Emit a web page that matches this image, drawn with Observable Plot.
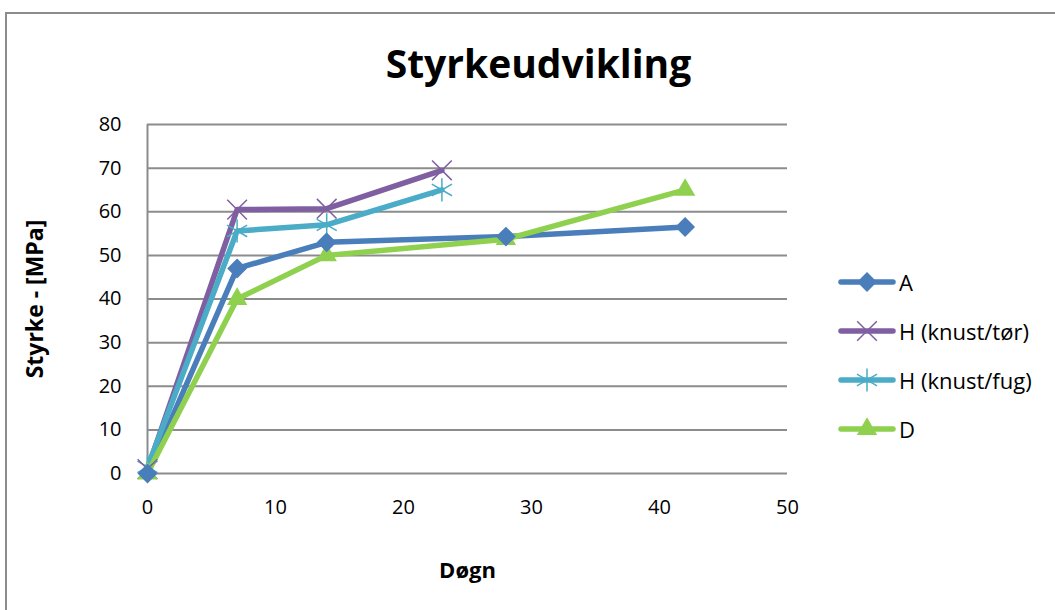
<!DOCTYPE html>
<html>
<head>
<meta charset="utf-8">
<script src="https://cdn.jsdelivr.net/npm/d3@7"></script>
<script src="https://cdn.jsdelivr.net/npm/@observablehq/plot@0.6"></script>
<style>
  html, body { margin: 0; padding: 0; background: #fff; width: 1055px; height: 610px; overflow: hidden; }
  #frame { position: absolute; left: 5px; top: 12px; width: 1200px; height: 700px; border: 2px solid #8c8c8c; box-sizing: border-box; }
  #title { position: absolute; left: 0; width: 1077px; top: 36px; text-align: center; font: bold 39px "Open Sans", sans-serif; color: #000; }
  #chart { position: absolute; left: 0; top: 0; }
  #legend { position: absolute; left: 838px; top: 257px; font: 22px "Open Sans", sans-serif; color: #000; }
  .item { display: flex; align-items: center; height: 49px; }
  .item svg { margin-right: 3px; }
</style>
</head>
<body>
<div id="frame"></div>
<div id="title">Styrkeudvikling</div>
<div id="chart"></div>
<div id="legend"></div>
<script>
const seriesNames = ["A", "H (knust/tør)", "H (knust/fug)", "D"];
const colors = ["#4a7ebb", "#7f5fa1", "#4aacc6", "#8fd14f"];
const symbols = ["diamond2", "times", "asterisk", "triangle2"];
const symbolSizes = [8, 9, 11, 8.5];

const daysA = [0, 7, 14, 28, 42];
const valuesA = [0, 47, 53, 54.3, 56.5];
const daysHtor = [0, 7, 14, 23];
const valuesHtor = [1, 60.5, 60.7, 69.5];
const daysHfug = [0, 7, 14, 23];
const valuesHfug = [1.5, 55.6, 57, 65];
const daysD = [0, 7, 14, 28, 42];
const valuesD = [0, 40, 50, 53.7, 65];

const xTicks = [0, 10, 20, 30, 40, 50];
const yTicks = [0, 10, 20, 30, 40, 50, 60, 70, 80];

const groups = [
  [daysA, valuesA],
  [daysHtor, valuesHtor],
  [daysHfug, valuesHfug],
  [daysD, valuesD]
];
const data = groups.flatMap(([xs, ys], i) => xs.map((x, j) => ({series: seriesNames[i], x, y: ys[j], size: symbolSizes[i]})));

const chart = Plot.plot({
  width: 1055,
  height: 610,
  marginLeft: 147,
  marginRight: 268,
  marginTop: 124,
  marginBottom: 137,
  style: {background: "transparent", fontFamily: "Open Sans, sans-serif"},
  x: {domain: [0, 50], ticks: xTicks, label: null},
  y: {domain: [0, 80], ticks: yTicks, label: null},
  r: {type: "identity"},
  color: {domain: seriesNames, range: colors},
  symbol: {domain: seriesNames, range: symbols},
  marks: [
    Plot.ruleY(yTicks, {stroke: "#8c8c8c", strokeWidth: 2}),
    Plot.ruleX([0], {stroke: "#8c8c8c", strokeWidth: 2}),
    Plot.axisY({ticks: yTicks, tickSize: 0, tickPadding: 26, fontSize: 20, fill: "#000", label: null}),
    Plot.axisX({ticks: xTicks, tickSize: 0, tickPadding: 26, fontSize: 20, fill: "#000", label: null}),
    Plot.line(data, {x: "x", y: "y", z: "series", stroke: "series", strokeWidth: 5.5, strokeLinejoin: "round"}),
    Plot.dot(data, {x: "x", y: "y", symbol: "series", fill: "series", stroke: "series",
      r: "size", strokeWidth: 1.5}),
    Plot.text(["Døgn"], {frameAnchor: "bottom", dy: 104, fontSize: 22, fontWeight: "bold", fill: "#000"}),
    Plot.text(["Styrke - [MPa]"], {frameAnchor: "left", dx: -112, rotate: -90, textAnchor: "middle", fontSize: 23, fontWeight: "bold", fill: "#000"})
  ]
});
document.getElementById("chart").appendChild(chart);

// Legend
const legend = d3.select("#legend");
const symMap = {diamond2: d3.symbolDiamond2, times: d3.symbolTimes, asterisk: d3.symbolAsterisk, triangle2: d3.symbolTriangle2};
seriesNames.forEach((name, i) => {
  const item = legend.append("div").attr("class", "item");
  const svg = item.append("svg").attr("width", 58).attr("height", 26);
  svg.append("line").attr("x1", 3).attr("x2", 55).attr("y1", 13).attr("y2", 13)
    .attr("stroke", colors[i]).attr("stroke-width", 5.5).attr("stroke-linecap", "round");
  const sz = Math.PI * symbolSizes[i] * symbolSizes[i];
  svg.append("path").attr("transform", "translate(29,13)")
    .attr("d", d3.symbol(symMap[symbols[i]], sz)())
    .attr("fill", colors[i]).attr("stroke", colors[i]).attr("stroke-width", 1.5);
  item.append("span").text(name);
});
</script>
</body>
</html>
